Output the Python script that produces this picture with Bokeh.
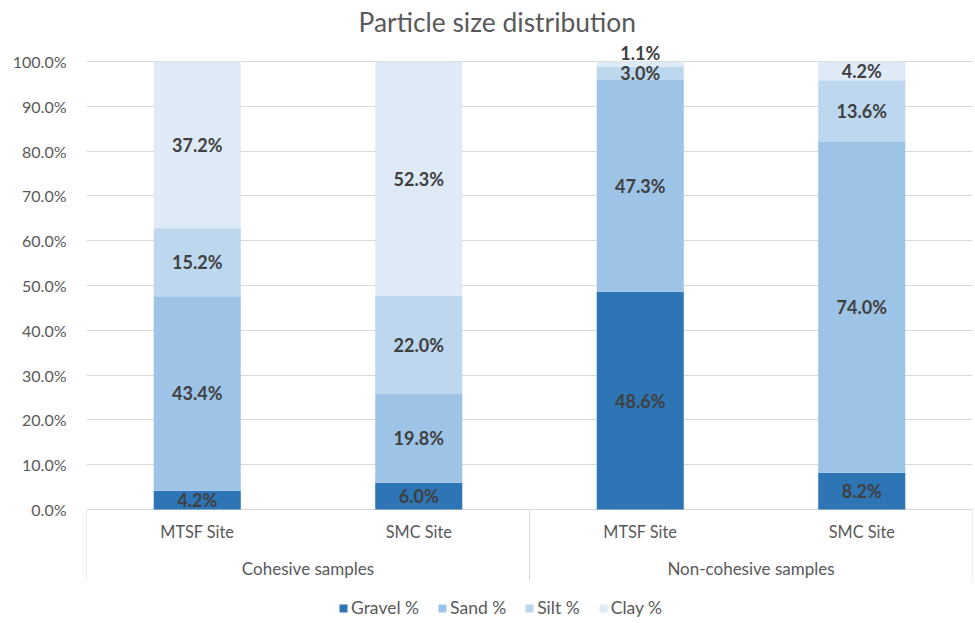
from bokeh.plotting import figure
from bokeh.models import (FactorRange, Range1d, FixedTicker, PrintfTickFormatter,
                          ColumnDataSource, Legend, LegendItem, Title)
from bokeh.transform import dodge
from bokeh.core.properties import value
from bokeh.embed import file_html
from bokeh.resources import INLINE

groups = ["Cohesive samples", "Cohesive samples", "Non-cohesive samples", "Non-cohesive samples"]
sites = ["MTSF Site", "SMC Site", "MTSF Site", "SMC Site"]
series = ["Gravel %", "Sand %", "Silt %", "Clay %"]
gravel = [4.2, 6.0, 48.6, 8.2]
sand = [43.4, 19.8, 47.3, 74.0]
silt = [15.2, 22.0, 3.0, 13.6]
clay = [37.2, 52.3, 1.1, 4.2]
colors = ["#2E75B6", "#9DC3E6", "#BDD7EE", "#DEEBF7"]
y_ticks = [0, 10, 20, 30, 40, 50, 60, 70, 80, 90, 100]

FONT = "Lato"
GRAY = "#595959"
LINE = "#D9D9D9"
factors = list(zip(groups, sites))
values = [gravel, sand, silt, clay]
totals = [sum(v[i] for v in values) for i in range(len(factors))]
norm = [[v[i] / totals[i] * 100 for i in range(len(factors))] for v in values]

data = {"x": factors}
for s, col in zip(series, norm):
    data[s] = col
src = ColumnDataSource(data)

xr = FactorRange(*factors, factor_padding=0, group_padding=0, range_padding=0)
p = figure(width=975, height=623, x_range=xr, y_range=Range1d(-25.45, 104.69),
           output_backend="svg", toolbar_location=None,
           min_border_left=86, min_border_right=3, min_border_top=40, min_border_bottom=0)
p.outline_line_color = None
p.background_fill_color = "white"
p.border_fill_color = "white"

renderers = p.vbar_stack(series, x="x", width=0.393, color=colors, line_color=None, source=src)

# data labels (tiny segments get their label just above the bar)
lx, ly, lt = [], [], []
for i, f in enumerate(factors):
    bottom = 0.0
    for k in range(len(series)):
        h = norm[k][i]
        top = bottom + h
        lx.append(f)
        ly.append((bottom + top) / 2 if h >= 2 else top + 1.8)
        lt.append("%.1f%%" % values[k][i])
        bottom = top
p.text(x=lx, y=ly, text=lt, text_align="center", text_baseline="middle",
       text_font=value(FONT), text_font_size="18px", text_font_style="bold", text_color="#404040")

# y axis
p.yaxis.ticker = FixedTicker(ticks=y_ticks)
p.yaxis.formatter = PrintfTickFormatter(format="%.1f%%")
p.yaxis.axis_line_color = None
p.yaxis.major_tick_line_color = None
p.yaxis.minor_tick_line_color = None
p.yaxis.major_label_text_font = FONT
p.yaxis.major_label_text_font_size = "16px"
p.yaxis.major_label_text_color = GRAY
p.yaxis.major_label_standoff = 14
p.ygrid.ticker = FixedTicker(ticks=y_ticks)
p.ygrid.grid_line_color = LINE
p.xgrid.grid_line_color = None
p.xaxis.visible = False

# category axis (sites and groups) drawn below the zero line
p.text(x=factors, y=[-4.9] * len(factors), text=sites, text_align="center", text_baseline="middle",
       text_font=value(FONT), text_font_size="16.3px", text_color=GRAY)
top_groups = list(dict.fromkeys(groups))
grp_src = ColumnDataSource({"g": top_groups})
p.text(x="g", y=-13.2, text="g", source=grp_src, text_align="center", text_baseline="middle",
       text_font=value(FONT), text_font_size="17px", text_color=GRAY)

# category separators
end_src = ColumnDataSource({"g": top_groups[-1:]})
p.segment(x0=dodge("g", -1.0, range=xr), y0=0, x1=dodge("g", -1.0, range=xr), y1=-15.85,
          source=grp_src, line_color=LINE, line_width=1)
p.segment(x0=dodge("g", 1.0, range=xr), y0=0, x1=dodge("g", 1.0, range=xr), y1=-15.85,
          source=end_src, line_color=LINE, line_width=1)

# title
p.title = Title(text="Particle size distribution", align="left", offset=272, standoff=6,
                text_font=FONT, text_font_size="26.4px", text_font_style="normal",
                text_color=GRAY)

legend = Legend(items=[LegendItem(label=s, renderers=[r]) for s, r in zip(series, renderers)],
                orientation="horizontal", location=(252, 5), border_line_color=None,
                glyph_width=10, glyph_height=10, label_standoff=3, spacing=18,
                label_text_font=FONT, label_text_font_size="17.5px", label_text_color=GRAY,
                padding=4, margin=0, background_fill_alpha=0)
p.add_layout(legend, "center")

open("out.html", "w").write(file_html(p, INLINE))
